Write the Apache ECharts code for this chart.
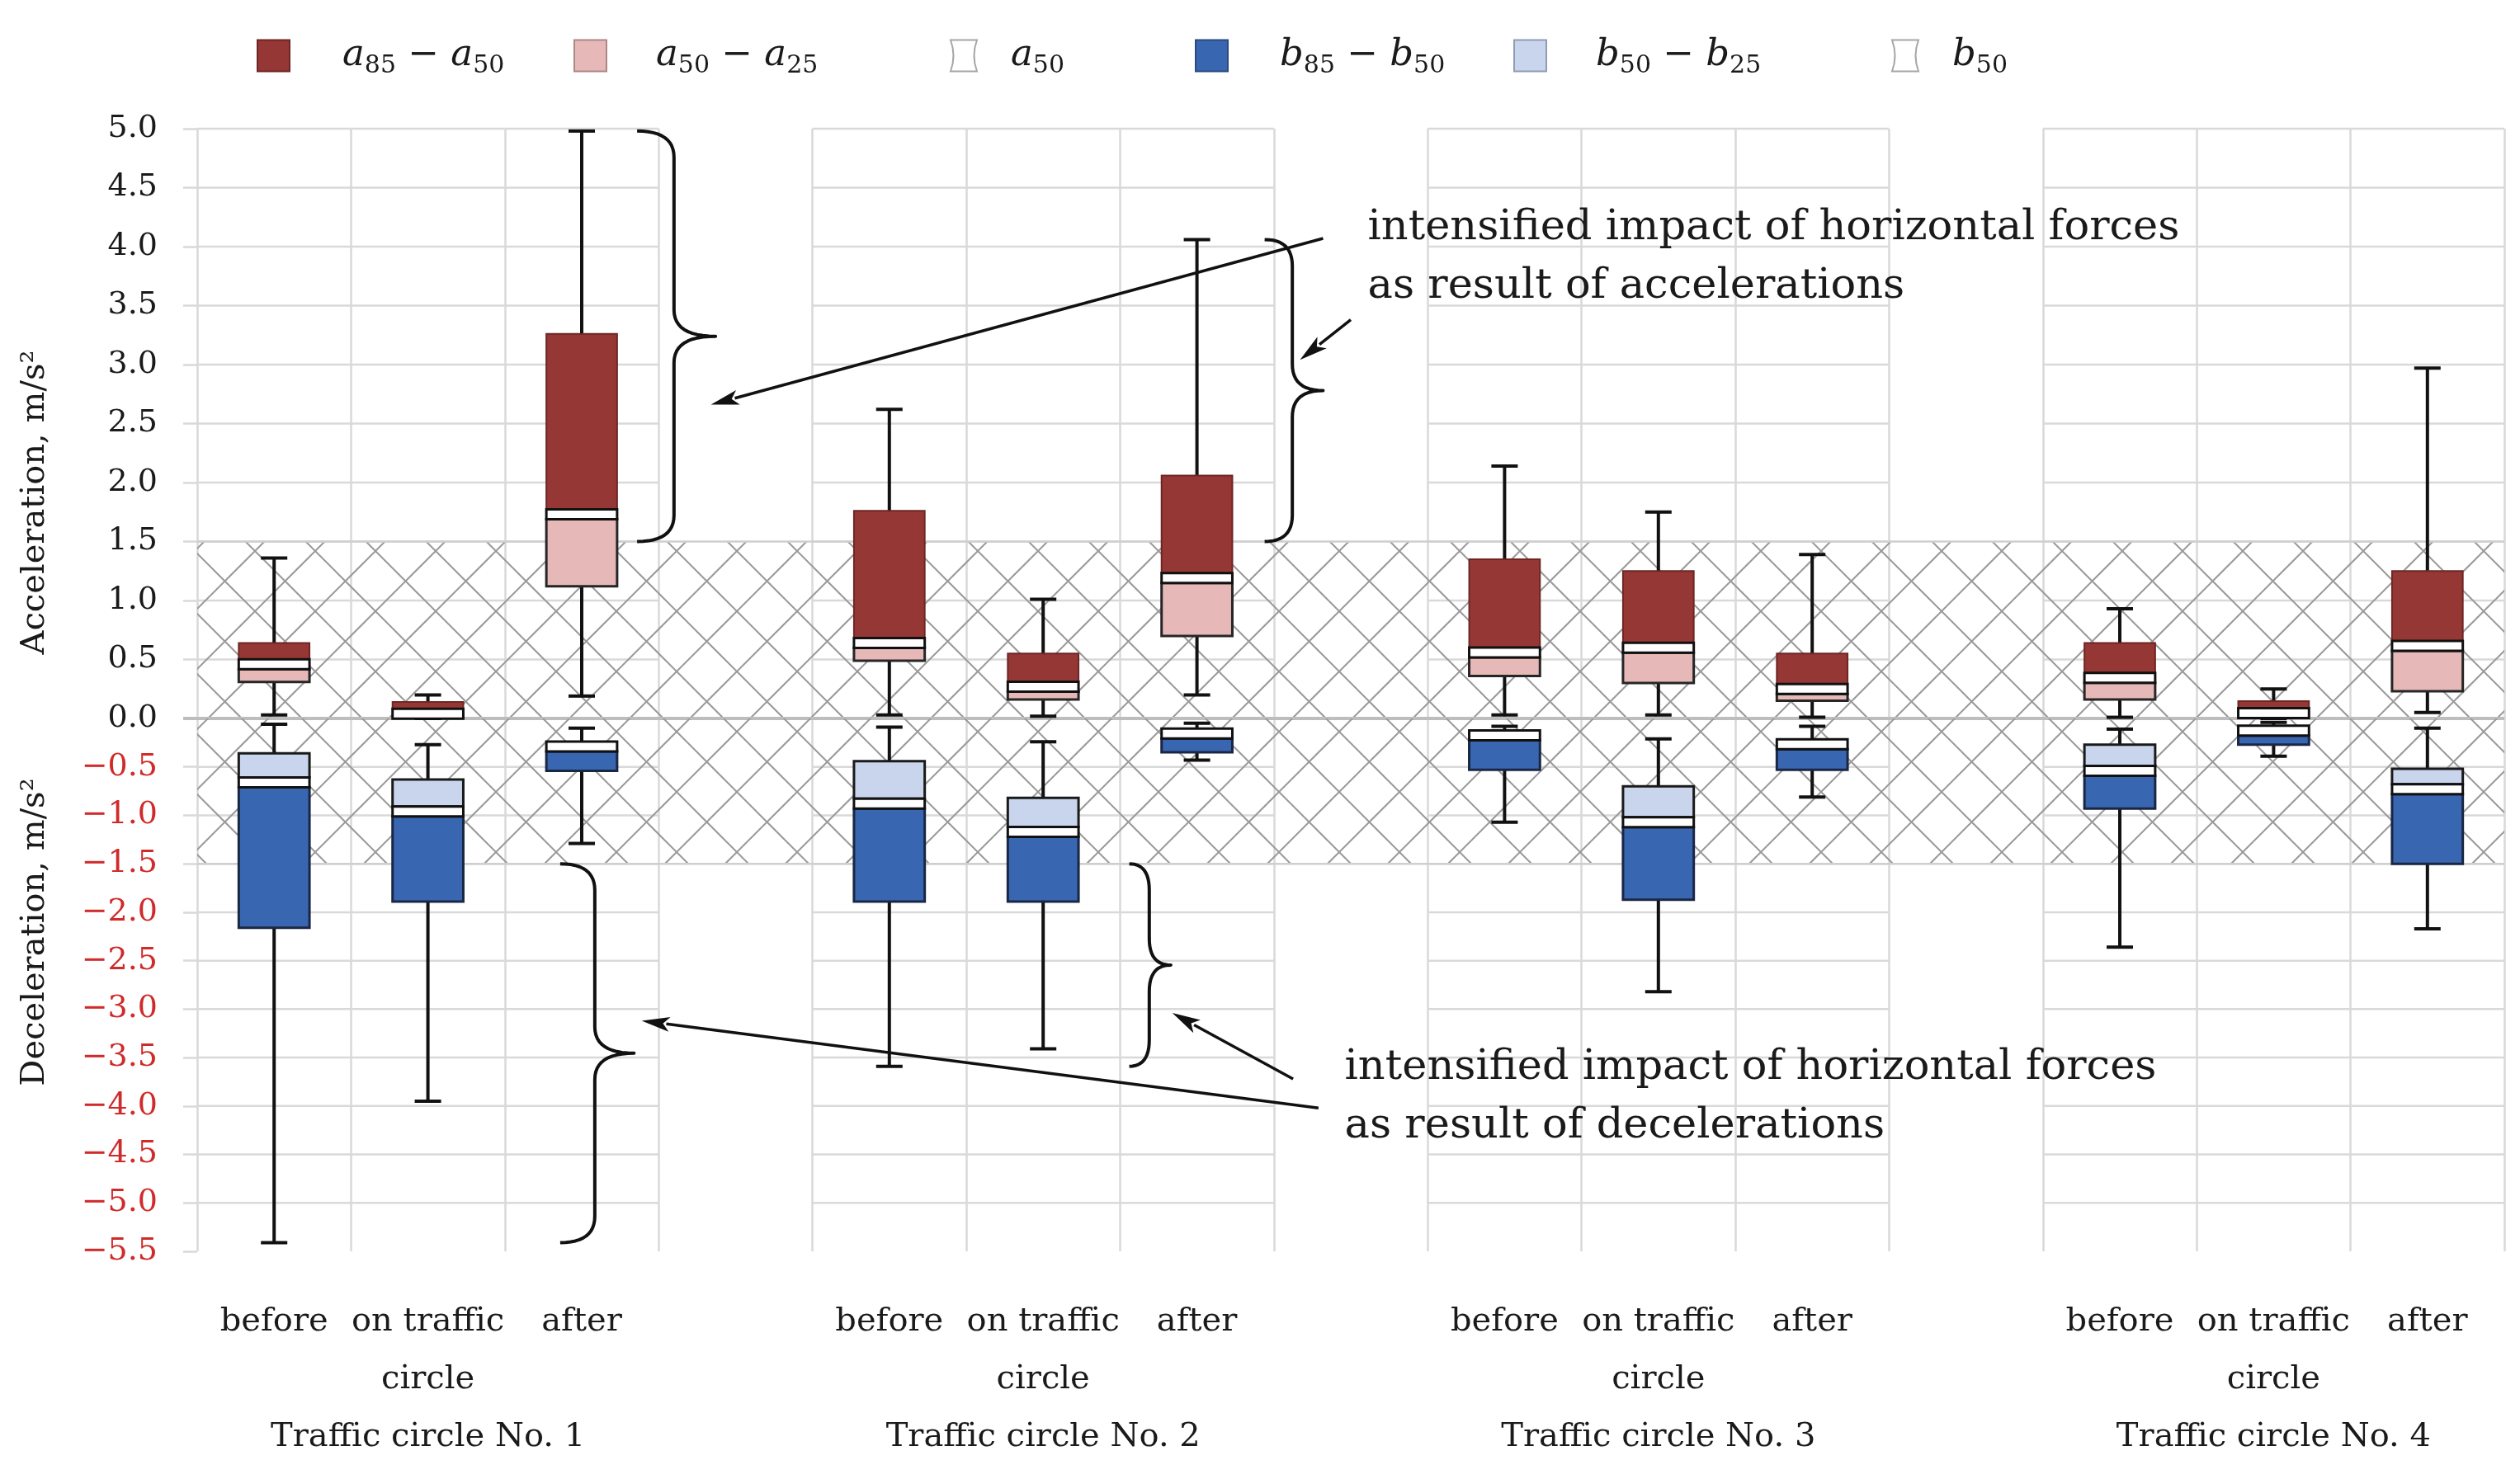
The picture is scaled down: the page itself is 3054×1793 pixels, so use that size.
<!DOCTYPE html>
<html><head><meta charset="utf-8">
<script src="https://cdn.jsdelivr.net/npm/echarts@6/dist/echarts.min.js"></script>
<style>html,body{margin:0;padding:0;background:#fff}#c{width:3054px;height:1793px}</style>
</head><body><div id="c"></div>
<script>
// ---------------- DATA ----------------
const groups = ['Traffic circle No. 1', 'Traffic circle No. 2', 'Traffic circle No. 3', 'Traffic circle No. 4'];
const phases = ['before', 'on traffic\ncircle', 'after'];
// order: TC1 before, on, after, TC2 before, on, after, TC3 ..., TC4 ...
const aMin = [0.03, 0.00, 0.19, 0.03, 0.02, 0.20, 0.03, 0.03, 0.01, 0.01, 0.00, 0.05];
const a25  = [0.31, 0.01, 1.12, 0.49, 0.16, 0.70, 0.36, 0.30, 0.15, 0.16, 0.01, 0.23];
const a50  = [0.46, 0.04, 1.73, 0.64, 0.27, 1.19, 0.56, 0.60, 0.25, 0.345, 0.045, 0.615];
const a85  = [0.64, 0.14, 3.26, 1.76, 0.55, 2.06, 1.35, 1.25, 0.55, 0.64, 0.147, 1.25];
const aMax = [1.36, 0.20, 4.98, 2.62, 1.01, 4.06, 2.14, 1.75, 1.39, 0.93, 0.25, 2.97];
const bMax = [-0.06, -0.27, -0.10, -0.09, -0.24, -0.05, -0.08, -0.21, -0.08, -0.11, -0.04, -0.10];
const b25  = [-0.36, -0.63, -0.24, -0.44, -0.82, -0.10, -0.12, -0.70, -0.21, -0.27, -0.09, -0.52];
const b50  = [-0.66, -0.96, -0.29, -0.88, -1.17, -0.155, -0.175, -1.07, -0.265, -0.54, -0.125, -0.73];
const b85  = [-2.16, -1.89, -0.54, -1.89, -1.89, -0.35, -0.53, -1.87, -0.53, -0.93, -0.27, -1.50];
const bMin = [-5.41, -3.95, -1.29, -3.59, -3.41, -0.43, -1.07, -2.82, -0.81, -2.36, -0.39, -2.17];
const upperTicks = [0.5, 1.0, 1.5, 2.0, 2.5, 3.0, 3.5, 4.0, 4.5, 5.0];
const lowerTicks = [-0.5, -1.0, -1.5, -2.0, -2.5, -3.0, -3.5, -4.0, -4.5, -5.0];
const hatchLimit = 1.5;
const legendNames = ['a85 − a50', 'a50 − a25', 'a50', 'b85 − b50', 'b50 − b25', 'b50'];
const noteAcc = 'intensified impact of horizontal forces\nas result of accelerations';
const noteDec = 'intensified impact of horizontal forces\nas result of decelerations';

// ---------------- BUILD ----------------
const categories = [];
const boxCol = [];
groups.forEach((g, gi) => {
  phases.forEach((p, pi) => {
    boxCol.push(categories.length);
    categories.push(pi === 1 ? p + '\n' + g : p);
  });
  if (gi < groups.length - 1) categories.push('');
});

const FONT = 'DejaVu Serif';
const INK = '#1a1a1a';
const GRIDC = '#d9d9d9';
const BOX_FRAC = 0.46, BAND = 12, CAP = 32;

const C = {
  red: '#953735', redS: '#6e2625',
  pink: '#e6b9b8', pinkS: '#262626',
  blue: '#3866b0', blueS: '#1a2744',
  lblue: '#c8d5ed', lblueS: '#1a1a1a'
};

// hatch pattern
const pat = document.createElement('canvas');
pat.width = 73; pat.height = 73;
(function () {
  const ctx = pat.getContext('2d');
  ctx.strokeStyle = '#9a9a9a'; ctx.lineWidth = 2;
  const x0 = 17, y0 = 11;
  for (let m = -3; m <= 3; m++) {
    const cx = x0 + 73 * m;
    ctx.beginPath(); ctx.moveTo(cx - 200, y0 - 200); ctx.lineTo(cx + 200, y0 + 200); ctx.stroke();
    ctx.beginPath(); ctx.moveTo(cx - 200, y0 + 200); ctx.lineTo(cx + 200, y0 - 200); ctx.stroke();
  }
})();

function gridLinesSeries(gi, ticks) {
  return {
    type: 'custom', xAxisIndex: gi, yAxisIndex: gi, silent: true, z: 1,
    data: boxCol.map(c => [c]),
    renderItem(params, api) {
      const c = api.value(0);
      const w = api.size([1, 0])[0];
      const cx = api.coord([c, 0])[0];
      return {
        type: 'group',
        children: ticks.map(v => {
          const y = api.coord([c, v])[1];
          return { type: 'line', shape: { x1: cx - w / 2, y1: y, x2: cx + w / 2, y2: y }, style: { stroke: GRIDC, lineWidth: 2.5 } };
        })
      };
    }
  };
}

function hatchSeries(gi, lo, hi, zeroLine) {
  return {
    type: 'custom', xAxisIndex: gi, yAxisIndex: gi, silent: true, z: 2,
    data: [[0, lo, hi]],
    renderItem(params, api) {
      const w = api.size([1, 0])[0];
      const last = categories.length - 1;
      const x1 = api.coord([0, 0])[0] - w / 2;
      const x2 = api.coord([last, 0])[0] + w / 2;
      const yA = api.coord([0, api.value(2)])[1];
      const yB = api.coord([0, api.value(1)])[1];
      const yEdge = api.coord([0, gi === 0 ? hi : lo])[1];
      const ch = [
        { type: 'rect', shape: { x: x1, y: yA, width: x2 - x1, height: yB - yA }, style: { fill: { image: pat, repeat: 'repeat' } } },
        { type: 'line', shape: { x1, y1: yEdge, x2, y2: yEdge }, style: { stroke: '#cfcfcf', lineWidth: 2.5 } }
      ];
      if (zeroLine) {
        const y0 = api.coord([0, 0])[1];
        ch.push({ type: 'line', shape: { x1: x1 - 17, y1: y0, x2, y2: y0 }, style: { stroke: '#bdbdbd', lineWidth: 4 } });
      }
      return { type: 'group', children: ch };
    }
  };
}

function whiskerSeries(gi, vA, vB) {
  return {
    type: 'custom', xAxisIndex: gi, yAxisIndex: gi, silent: true, z: 4,
    data: boxCol.map((c, i) => [c, vA[i], vB[i]]),
    renderItem(params, api) {
      const c = api.value(0);
      const p1 = api.coord([c, api.value(1)]);
      const p2 = api.coord([c, api.value(2)]);
      const st = { stroke: '#111', lineWidth: 4 };
      return {
        type: 'group', children: [
          { type: 'line', shape: { x1: p1[0], y1: p1[1], x2: p2[0], y2: p2[1] }, style: st },
          { type: 'line', shape: { x1: p1[0] - CAP / 2, y1: p1[1], x2: p1[0] + CAP / 2, y2: p1[1] }, style: st },
          { type: 'line', shape: { x1: p2[0] - CAP / 2, y1: p2[1], x2: p2[0] + CAP / 2, y2: p2[1] }, style: st }
        ]
      };
    }
  };
}

// rect from value vTop (+offTop px) to value vBot (+offBot px)
function boxSeries(name, gi, vTop, offTop, vBot, offBot, fill, stroke, lw) {
  return {
    name, type: 'custom', xAxisIndex: gi, yAxisIndex: gi, z: 5,
    itemStyle: { color: fill, borderColor: stroke, borderWidth: lw },
    data: boxCol.map((c, i) => [c, vTop[i], vBot[i]]),
    renderItem(params, api) {
      const c = api.value(0);
      const w = api.size([1, 0])[0] * BOX_FRAC;
      const pT = api.coord([c, api.value(1)]);
      const pB = api.coord([c, api.value(2)]);
      const yT = pT[1] + offTop, yB = pB[1] + offBot;
      if (yB - yT < 1) return null;
      return {
        type: 'rect', shape: { x: pT[0] - w / 2, y: yT, width: w, height: yB - yT },
        style: { fill, stroke, lineWidth: lw }
      };
    }
  };
}

const series = [
  gridLinesSeries(0, upperTicks),
  gridLinesSeries(1, lowerTicks),
  hatchSeries(0, 0, hatchLimit, true),
  hatchSeries(1, -hatchLimit, 0, false),
  whiskerSeries(0, aMin, aMax),
  whiskerSeries(1, bMax, bMin),
  boxSeries(legendNames[0], 0, a85, 0, a50, -BAND / 2, C.red, C.redS, 2),
  boxSeries(legendNames[1], 0, a50, BAND / 2, a25, 0, C.pink, C.pinkS, 3),
  boxSeries(legendNames[2], 0, a50, -BAND / 2, a50, BAND / 2, '#ffffff', '#111', 3),
  boxSeries(legendNames[3], 1, b50, BAND / 2, b85, 0, C.blue, C.blueS, 3),
  boxSeries(legendNames[4], 1, b25, 0, b50, -BAND / 2, C.lblue, C.lblueS, 3),
  boxSeries(legendNames[5], 1, b50, -BAND / 2, b50, BAND / 2, '#ffffff', '#111', 3)
];

// legends
const hourglass = 'path://M0,0 L32,0 Q25,19 32,38 L0,38 Q7,19 0,0 Z';
const legendSpec = [
  { left: 306, w: 39, icon: 'rect', style: { color: C.red, borderColor: C.redS, borderWidth: 2 }, sp: 59, txt: '{v|a}{s|85}{m| − }{v|a}{s|50}' },
  { left: 690, w: 39, icon: 'rect', style: { color: C.pink, borderColor: '#a88786', borderWidth: 2 }, sp: 55, txt: '{v|a}{s|50}{m| − }{v|a}{s|25}' },
  { left: 1146, w: 32, icon: hourglass, style: { color: '#ffffff', borderColor: '#a6a6a6', borderWidth: 2 }, sp: 36, txt: '{v|a}{s|50}' },
  { left: 1443, w: 39, icon: 'rect', style: { color: C.blue, borderColor: '#2a4a80', borderWidth: 2 }, sp: 58, txt: '{v|b}{s|85}{m| − }{v|b}{s|50}' },
  { left: 1829, w: 39, icon: 'rect', style: { color: C.lblue, borderColor: '#8f9cb3', borderWidth: 2 }, sp: 55, txt: '{v|b}{s|50}{m| − }{v|b}{s|25}' },
  { left: 2287, w: 32, icon: hourglass, style: { color: '#ffffff', borderColor: '#a6a6a6', borderWidth: 2 }, sp: 36, txt: '{v|b}{s|50}' }
];
const legends = legendSpec.map((L, i) => ({
  data: [{ name: legendNames[i], icon: L.icon, itemStyle: L.style }],
  left: L.left, top: 40, itemWidth: L.w, itemHeight: 38, selectedMode: false,
  formatter: () => '{sp| }' + L.txt,
  textStyle: {
    rich: {
      sp: { width: L.sp, fontSize: 10 },
      v: { fontFamily: FONT, fontStyle: 'italic', fontSize: 45, lineHeight: 56, color: INK },
      m: { fontFamily: FONT, fontSize: 45, lineHeight: 56, color: INK },
      s: { fontFamily: FONT, fontSize: 30, lineHeight: 22, verticalAlign: 'bottom', color: INK }
    }
  }
}));

const fmt = v => v.toFixed(1).replace('-', '\u2212');

const option = {
  animation: false,
  backgroundColor: '#ffffff',
  textStyle: { fontFamily: FONT },
  legend: legends,
  grid: [
    { left: 239, top: 156, width: 2796, height: 715, outerBoundsMode: 'none' },
    { left: 239, top: 871, width: 2796, height: 646, outerBoundsMode: 'none' }
  ],
  xAxis: [
    {
      gridIndex: 0, type: 'category', data: categories,
      axisLine: { show: false }, axisTick: { show: false }, axisLabel: { show: false },
      splitLine: { show: true, interval: 0, lineStyle: { color: GRIDC, width: 2.5 } }
    },
    {
      gridIndex: 1, type: 'category', data: categories, position: 'bottom',
      axisLine: { show: true, lineStyle: { color: GRIDC, width: 3 } }, axisTick: { show: false },
      axisLabel: { show: true, interval: 0, fontFamily: FONT, fontSize: 40, lineHeight: 70, margin: 51, color: INK },
      splitLine: { show: true, interval: 0, lineStyle: { color: GRIDC, width: 2.5 } }
    }
  ],
  yAxis: [
    {
      gridIndex: 0, type: 'value', min: 0, max: 5, interval: 0.5,
      axisLine: { show: false }, splitLine: { show: false },
      axisTick: { show: true, length: 17, lineStyle: { color: GRIDC, width: 2.5 } },
      axisLabel: { formatter: fmt, fontFamily: FONT, fontSize: 38, color: INK, margin: 48 }
    },
    {
      gridIndex: 1, type: 'value', min: -5.5, max: 0, interval: 0.5,
      axisLine: { show: false }, splitLine: { show: false },
      axisTick: { show: true, length: 17, lineStyle: { color: GRIDC, width: 2.5 } },
      axisLabel: { formatter: v => (v === 0 ? '' : fmt(v)), fontFamily: FONT, fontSize: 38, color: '#d12a2a', margin: 48 }
    }
  ],
  series
};

const chart = echarts.init(document.getElementById('c'), null, { renderer: 'canvas' });
chart.setOption(option);

// ---------------- ANNOTATIONS ----------------
function P(g, col, frac, v) {
  const a = chart.convertToPixel({ gridIndex: g }, [col, v]);
  const b = chart.convertToPixel({ gridIndex: g }, [col + 1, v]);
  return [a[0] + frac * (b[0] - a[0]), a[1]];
}
const braces = [
  { g: 0, col: 2, e: 0.36, m: 0.60, t: 0.87, v1: aMax[2], v2: hatchLimit },
  { g: 0, col: 6, e: 0.44, m: 0.62, t: 0.82, v1: aMax[5], v2: hatchLimit },
  { g: 1, col: 2, e: -0.14, m: 0.085, t: 0.34, v1: -hatchLimit, v2: bMin[0] },
  { g: 1, col: 6, e: -0.44, m: -0.31, t: -0.17, v1: -hatchLimit, v2: bMin[3] }
];
const arrows = [
  { g: 0, tail: [6, 0.82, 4.07], head: [2, 0.84, 2.66] },
  { g: 0, tail: [6, 1.0, 3.38], head: [6, 0.67, 3.04] },
  { g: 1, tail: [6, 0.79, -4.02], head: [2, 0.39, -3.12] },
  { g: 1, tail: [6, 0.625, -3.72], head: [6, -0.16, -3.04] }
];
const notes = [
  { g: 0, col: 6, frac: 1.11, v: 4.15, text: noteAcc },
  { g: 1, col: 6, frac: 0.96, v: -3.61, text: noteDec }
];

function quad(p0, p1, p2, n, out) {
  for (let i = 1; i <= n; i++) {
    const t = i / n, u = 1 - t;
    out.push([u * u * p0[0] + 2 * u * t * p1[0] + t * t * p2[0], u * u * p0[1] + 2 * u * t * p1[1] + t * t * p2[1]]);
  }
}

const graphics = [];
braces.forEach(b => {
  const e = P(b.g, b.col, b.e, b.v1)[0], m = P(b.g, b.col, b.m, b.v1)[0], t = P(b.g, b.col, b.t, b.v1)[0];
  let y1 = P(b.g, b.col, 0, b.v1)[1], y2 = P(b.g, b.col, 0, b.v2)[1];
  if (y1 > y2) { const tmp = y1; y1 = y2; y2 = tmp; }
  const ym = (y1 + y2) / 2, r = Math.min(32, (y2 - y1) / 6);
  const pts = [[e, y1]];
  quad([e, y1], [m, y1], [m, y1 + r], 12, pts);
  pts.push([m, ym - r]);
  quad([m, ym - r], [m, ym], [t, ym], 12, pts);
  quad([t, ym], [m, ym], [m, ym + r], 12, pts);
  pts.push([m, y2 - r]);
  quad([m, y2 - r], [m, y2], [e, y2], 12, pts);
  graphics.push({ type: 'polyline', z: 100, shape: { points: pts }, style: { stroke: '#111', lineWidth: 4, fill: null, lineJoin: 'round' } });
});
arrows.forEach(a => {
  const T = P(a.g, a.tail[0], a.tail[1], a.tail[2]);
  const H = P(a.g, a.head[0], a.head[1], a.head[2]);
  const dx = H[0] - T[0], dy = H[1] - T[1], len = Math.hypot(dx, dy);
  const ux = dx / len, uy = dy / len, nx = -uy, ny = ux;
  const L = 34, W = 9;
  const bx = H[0] - ux * L, by = H[1] - uy * L;
  graphics.push({ type: 'line', z: 100, shape: { x1: T[0], y1: T[1], x2: bx + ux * 4, y2: by + uy * 4 }, style: { stroke: '#111', lineWidth: 3.5 } });
  graphics.push({ type: 'polygon', z: 100, shape: { points: [[H[0], H[1]], [bx + nx * W, by + ny * W], [bx + ux * 8, by + uy * 8], [bx - nx * W, by - ny * W]] }, style: { fill: '#111' } });
});
notes.forEach(n => {
  const p = P(n.g, n.col, n.frac, n.v);
  graphics.push({ type: 'text', z: 100, x: p[0], y: p[1] - 36, style: { text: n.text, fontFamily: FONT, fontSize: 51, lineHeight: 71, fill: INK, align: 'left', verticalAlign: 'top' } });
});
graphics.push({ type: 'text', z: 100, x: 43, y: 609, rotation: Math.PI / 2, style: { text: 'Acceleration, m/s²', fontFamily: FONT, fontSize: 40, fill: INK, align: 'center', verticalAlign: 'middle' } });
graphics.push({ type: 'text', z: 100, x: 43, y: 1130, rotation: Math.PI / 2, style: { text: 'Deceleration, m/s²', fontFamily: FONT, fontSize: 40, fill: INK, align: 'center', verticalAlign: 'middle' } });
chart.setOption({ graphic: graphics });
</script>
</body></html>
